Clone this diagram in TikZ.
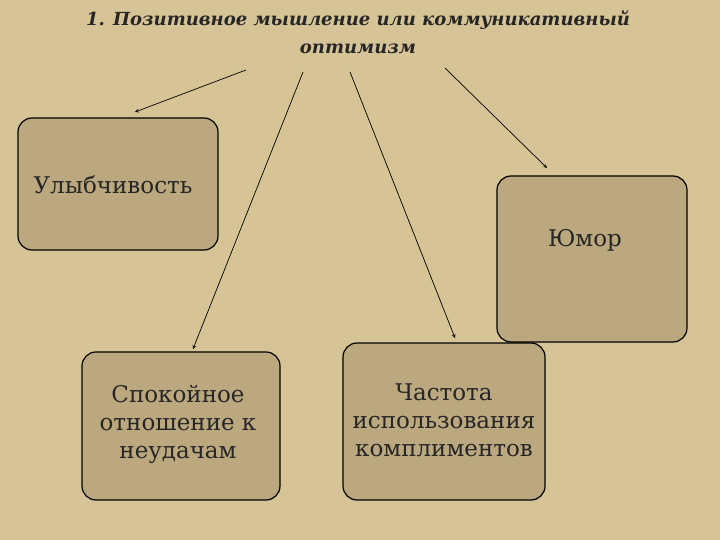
\documentclass[tikz,border=0pt]{standalone}
\usepackage{fontspec}
\setmainfont{DejaVu Serif}
\begin{document}
\begin{tikzpicture}[x=1pt,y=-1pt,
  box/.style={draw=black,line width=1.2pt,fill=boxfill,rounded corners=14pt},
  lbl/.style={font=\fontsize{23}{28}\selectfont,align=center,text=black!85},
  arr/.style={-stealth,line width=0.7pt}]
\definecolor{bg}{RGB}{214,196,150}
\definecolor{boxfill}{RGB}{188,168,126}
\fill[bg] (0,0) rectangle (720,540);
\useasboundingbox (0,0) rectangle (720,540);
\node[font=\bfseries\itshape\fontsize{18}{28}\selectfont,align=center,text=black!85] (title) at (358,32) {1. Позитивное мышление или коммуникативный\\оптимизм};
\draw[box] (18,118) rectangle (218,250);
\node[lbl,anchor=west] (ulyb) at (30,185) {Улыбчивость};
\draw[box] (497,176) rectangle (687,342);
\node[lbl] (yumor) at (585,240) {Юмор};
\draw[box] (82,352) rectangle (280,500);
\node[lbl] (spok) at (178,424) {Спокойное\\отношение к\\неудачам};
\draw[box] (343,343) rectangle (545,500);
\node[lbl] (chast) at (444,420) {Частота\\использования\\комплиментов};
\coordinate (a1) at (246,70); \coordinate (b1) at (135,112);
\coordinate (a2) at (303,72); \coordinate (b2) at (193,349);
\coordinate (a3) at (350,72); \coordinate (b3) at (455,338);
\coordinate (a4) at (445,68); \coordinate (b4) at (547,168);
\draw[arr] (a1) -- (b1);
\draw[arr] (a2) -- (b2);
\draw[arr] (a3) -- (b3);
\draw[arr] (a4) -- (b4);
\end{tikzpicture}
\end{document}
